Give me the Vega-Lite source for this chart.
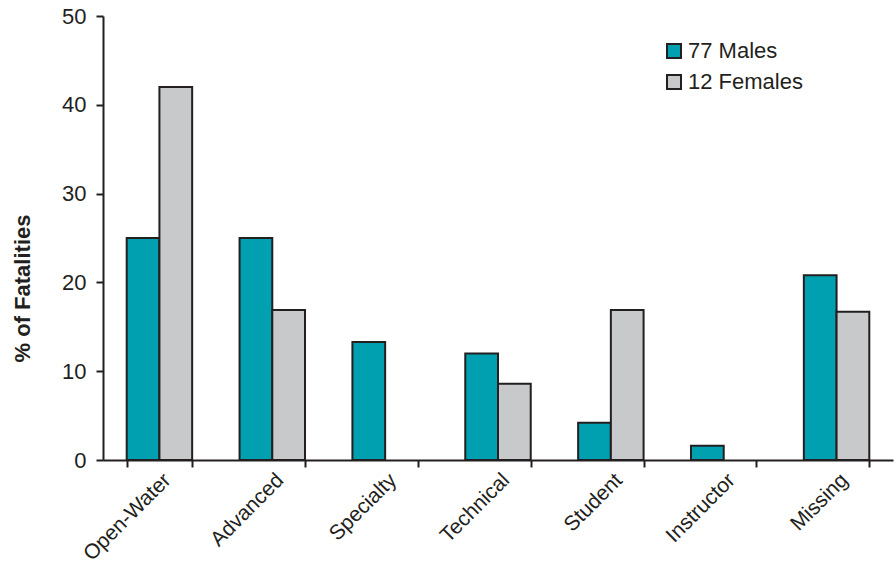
{
  "$schema": "https://vega.github.io/schema/vega-lite/v6.json",
  "width": 790,
  "height": 444,
  "autosize": {"type": "none"},
  "padding": {"left": 103, "top": 16, "right": 3, "bottom": 106},
  "background": "white",
  "config": {
    "view": {"stroke": null},
    "font": "Liberation Sans",
    "axis": {"domainColor": "#231f20", "tickColor": "#231f20", "labelColor": "#231f20", "titleColor": "#231f20", "domainWidth": 2, "tickWidth": 2, "grid": false}
  },
  "data": {
    "values": [
      {"level": "Open-Water", "group": "77 Males", "pct": 25},
      {"level": "Open-Water", "group": "12 Females", "pct": 42},
      {"level": "Advanced", "group": "77 Males", "pct": 25},
      {"level": "Advanced", "group": "12 Females", "pct": 16.9},
      {"level": "Specialty", "group": "77 Males", "pct": 13.3},
      {"level": "Technical", "group": "77 Males", "pct": 12},
      {"level": "Technical", "group": "12 Females", "pct": 8.6},
      {"level": "Student", "group": "77 Males", "pct": 4.2},
      {"level": "Student", "group": "12 Females", "pct": 16.9},
      {"level": "Instructor", "group": "77 Males", "pct": 1.6},
      {"level": "Missing", "group": "77 Males", "pct": 20.8},
      {"level": "Missing", "group": "12 Females", "pct": 16.7}
    ]
  },
  "mark": {"type": "bar", "stroke": "#231f20", "strokeWidth": 2},
  "encoding": {
    "x": {
      "field": "level",
      "type": "nominal",
      "sort": null,
      "scale": {"paddingInner": 0.42, "paddingOuter": 0.21},
      "axis": {"title": null, "labelAngle": -45, "labelFontSize": 21, "tickBand": "extent", "tickSize": 7, "labelPadding": 2, "labelDy": -8}
    },
    "xOffset": {"field": "group", "type": "nominal", "sort": ["77 Males", "12 Females"], "scale": {"domain": ["77 Males", "12 Females"]}},
    "y": {
      "field": "pct",
      "type": "quantitative",
      "scale": {"domain": [0, 50]},
      "axis": {"title": "% of Fatalities", "titleFontSize": 22, "titleFontWeight": "bold", "titleAngle": -90, "titleAlign": "center", "titleBaseline": "middle", "titleX": -81, "titleY": 272, "labelFontSize": 22, "values": [0, 10, 20, 30, 40, 50], "tickSize": 7, "labelPadding": 10}
    },
    "color": {
      "field": "group",
      "type": "nominal",
      "sort": ["77 Males", "12 Females"],
      "scale": {"domain": ["77 Males", "12 Females"], "range": ["#00a0b0", "#c8c9cb"]},
      "legend": {"title": null, "orient": "none", "legendX": 560, "legendY": 24, "symbolType": "square", "symbolSize": 196, "symbolStrokeColor": "#231f20", "symbolStrokeWidth": 2, "labelFontSize": 22, "labelColor": "#231f20", "rowPadding": 9, "labelOffset": 3}
    }
  }
}
